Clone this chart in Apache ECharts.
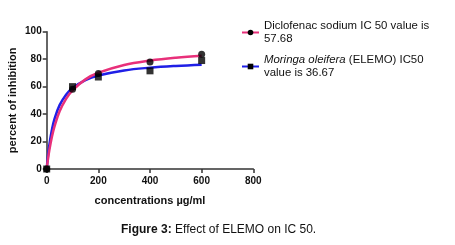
<!DOCTYPE html>
<html><head><meta charset="utf-8">
<script src="https://cdn.jsdelivr.net/npm/echarts@6/dist/echarts.min.js"></script>
<style>html,body{margin:0;padding:0;background:#fff}#c{width:455px;height:245px}</style>
</head><body><div id="c"></div>
<script>
// Measured points
var xPoints = [0, 100, 200, 400, 600];
var diclofenacPoints = [0, 58, 69.5, 78, 83.5];
var elemoPoints = [0, 60, 67, 71.5, 79];
// Fitted curves
var curveX = [0, 5, 10, 20, 30, 50, 75, 100, 150, 200, 300, 400, 500, 600];
var diclofenacCurve = [0, 7.2, 13.4, 23.3, 30.9, 42.0, 51.1, 57.3, 65.3, 70.1, 75.8, 79.0, 81.1, 82.5];
var elemoCurve = [0, 9.7, 17.3, 28.4, 36.3, 46.5, 54.1, 59.0, 64.8, 68.1, 71.8, 73.8, 75.1, 76.0];
var xTicks = [0, 200, 400, 600, 800];
var yTicks = [0, 20, 40, 60, 80, 100];
var names = ['Diclofenac sodium IC 50 value is\n57.68', '{i|Moringa oleifera} (ELEMO) IC50\nvalue is 36.67'];

function zip(xs, ys) { return xs.map(function (x, i) { return [x, ys[i]]; }); }

var FF = 'Liberation Sans, Arial, sans-serif';
var chart = echarts.init(document.getElementById('c'), null, {renderer: 'canvas'});
var axisLbl = {color: '#111', fontFamily: FF, fontWeight: 'bold', fontSize: 10};
chart.setOption({
  animation: false,
  backgroundColor: '#fff',
  title: {
    text: '{b|Figure 3:} Effect of ELEMO on IC 50.',
    left: 116, top: 219,
    textStyle: {
      fontFamily: FF, fontSize: 12, fontWeight: 'normal', color: '#111',
      rich: {b: {fontFamily: FF, fontSize: 12, fontWeight: 'bold', color: '#111'}}
    }
  },
  legend: {
    orient: 'vertical', left: 236, top: 15, itemGap: 9, itemWidth: 17, itemHeight: 7,
    data: [names[0], names[1]],
    textStyle: {
      fontFamily: FF, fontSize: 11.4, color: '#111', lineHeight: 12.5,
      rich: {i: {fontFamily: FF, fontSize: 11.4, fontStyle: 'italic', color: '#111', lineHeight: 12.5}}
    }
  },
  grid: {left: 46.7, right: 201.7, top: 31.7, bottom: 76, containLabel: false},
  xAxis: {
    type: 'value', min: xTicks[0], max: xTicks[xTicks.length - 1], interval: 200,
    name: 'concentrations µg/ml', nameLocation: 'middle', nameGap: 26,
    nameTextStyle: {color: '#111', fontFamily: FF, fontWeight: 'bold', fontSize: 11},
    axisLine: {show: true, lineStyle: {color: '#333', width: 1.5}},
    axisTick: {show: true, length: 4, lineStyle: {color: '#333', width: 1.5}},
    axisLabel: Object.assign({margin: 7}, axisLbl),
    splitLine: {show: false}
  },
  yAxis: {
    type: 'value', min: yTicks[0], max: yTicks[yTicks.length - 1], interval: 20,
    name: 'percent of inhibition', nameLocation: 'middle', nameGap: 28,
    nameTextStyle: {color: '#111', fontFamily: FF, fontWeight: 'bold', fontSize: 11},
    axisLine: {show: true, lineStyle: {color: '#333', width: 1.5}},
    axisTick: {show: true, length: 4, lineStyle: {color: '#333', width: 1.5}},
    axisLabel: Object.assign({margin: 5}, axisLbl),
    splitLine: {show: false}
  },
  series: [
    {
      name: names[1], type: 'line', data: zip(curveX, elemoCurve), smooth: 0.4,
      symbol: 'rect', symbolSize: 6, showSymbol: false,
      lineStyle: {color: '#1f1fe6', width: 2.5}, itemStyle: {color: '#000'}, z: 2
    },
    {
      name: names[0], type: 'line', data: zip(curveX, diclofenacCurve), smooth: 0.4,
      symbol: 'circle', symbolSize: 6, showSymbol: false,
      lineStyle: {color: '#e8307a', width: 2.5}, itemStyle: {color: '#000'}, z: 3
    },
    {
      type: 'scatter', data: zip(xPoints, diclofenacPoints), symbol: 'circle', symbolSize: 7,
      itemStyle: {color: '#000'}, z: 4
    },
    {
      type: 'scatter', data: zip(xPoints, elemoPoints), symbol: 'rect', symbolSize: 7,
      itemStyle: {color: '#000'}, z: 4
    }
  ]
});
</script></body></html>
